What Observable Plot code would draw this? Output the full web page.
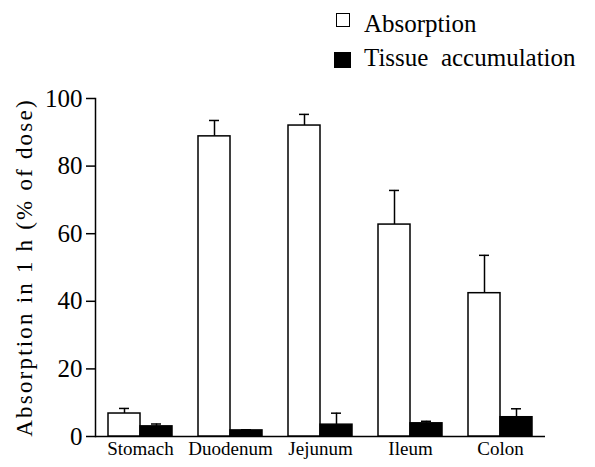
<!DOCTYPE html>
<html>
<head>
<meta charset="utf-8">
<script src="https://cdn.jsdelivr.net/npm/d3@7"></script>
<script src="https://cdn.jsdelivr.net/npm/@observablehq/plot@0.6"></script>
<style>
  body { margin: 0; background: #fff; }
  #wrap { position: relative; width: 595px; height: 467px; font-family: "Liberation Serif", "DejaVu Serif", serif; }
  #legend { position: relative; height: 88px; }
  .sw { position: absolute; width: 14px; height: 14px; border: 1.5px solid #000; box-sizing: border-box; }
  .lt { position: absolute; font-size: 25px; line-height: 25px; white-space: pre; color: #000; }
  #chart svg { display: block; overflow: visible; }
  #chart svg text { font-family: "Liberation Serif", serif; }
</style>
</head>
<body>
<div id="wrap">
  <div id="legend"></div>
  <div id="chart"></div>
</div>
<script>
const organs = ["Stomach", "Duodenum", "Jejunum", "Ileum", "Colon"];
const series = ["Absorption", "Tissue accumulation"];
const absorption = [6.8, 88.8, 92.0, 62.7, 42.4];
const absorptionErr = [1.5, 4.7, 3.3, 10.1, 11.2];
const tissue = [3.0, 1.8, 3.5, 3.9, 5.7];
const tissueErr = [0.7, 0.2, 3.4, 0.6, 2.5];
const yTicks = [0, 20, 40, 60, 80, 100];
const serif = "'Liberation Serif', serif";

const data = [];
organs.forEach((o, i) => {
  data.push({organ: o, series: series[0], value: absorption[i], err: absorptionErr[i]});
  data.push({organ: o, series: series[1], value: tissue[i], err: tissueErr[i]});
});

// legend
const legend = document.getElementById("legend");
const items = [
  {label: "Absorption", fill: "#fff", top: 13, left: 336, textTop: 11},
  {label: "Tissue  accumulation", fill: "#000", top: 52, left: 334, textTop: 45}
];
items.forEach(it => {
  const sw = document.createElement("div");
  sw.className = "sw";
  sw.style.left = it.left + "px";
  sw.style.top = it.top + "px";
  sw.style.background = it.fill;
  if (it.fill === "#000") { sw.style.width = "17px"; sw.style.height = "16px"; }
  legend.appendChild(sw);
  const t = document.createElement("div");
  t.className = "lt";
  t.style.left = "364px";
  t.style.top = it.textTop + "px";
  t.textContent = it.label;
  legend.appendChild(t);
});

const plot = Plot.plot({
  width: 595,
  height: 379,
  marginLeft: 95,
  marginRight: 50,
  marginTop: 10,
  marginBottom: 31,
  style: "font-family: 'Liberation Serif', serif; background: transparent; color: #000; overflow: visible;",
  fx: {domain: organs, padding: 0, label: null},
  x: {domain: series, paddingInner: 0, paddingOuter: 0.4, axis: null},
  y: {domain: [0, 100], label: null},
  color: {domain: series, range: ["#fff", "#000"]},
  marks: [
    Plot.axisFx({anchor: "bottom", tickSize: 0, tickPadding: 5, fontSize: 19, fontFamily: serif, label: null}),
    Plot.axisY({ticks: yTicks, tickSize: 9, tickPadding: 4, fontSize: 25, fontFamily: serif, fontVariant: "normal", tickFormat: d => String(d), strokeWidth: 1.5, label: null}),
    Plot.axisY({ticks: [], label: "Absorption in 1 h (% of dose)", labelAnchor: "center", labelArrow: "none", labelOffset: 80, fontSize: 23, fontFamily: serif, tickSize: 0}),
    Plot.frame({anchor: "left", facet: "super", strokeWidth: 1.5}),
    Plot.ruleY([0], {strokeWidth: 1.5}),
    Plot.ruleX(data, {fx: "organ", x: "series", y1: "value", y2: d => d.value + d.err, strokeWidth: 1.5}),
    Plot.tickY(data, {fx: "organ", x: "series", y: d => d.value + d.err, insetLeft: 11, insetRight: 11, strokeWidth: 1.5}),
    Plot.barY(data, {fx: "organ", x: "series", y: "value", fill: "series", stroke: "#000", strokeWidth: 1.5})
  ]
});
document.getElementById("chart").appendChild(plot);
plot.querySelectorAll("text").forEach(t => {
  t.style.fontFamily = "'Liberation Serif', serif";
  if (t.textContent.startsWith("Absorption in")) {
    t.textContent = t.textContent.replace(/\s*[↑→←↓]\s*/g, "");
    t.setAttribute("letter-spacing", "2.2");
  }
});
</script>
</body>
</html>
